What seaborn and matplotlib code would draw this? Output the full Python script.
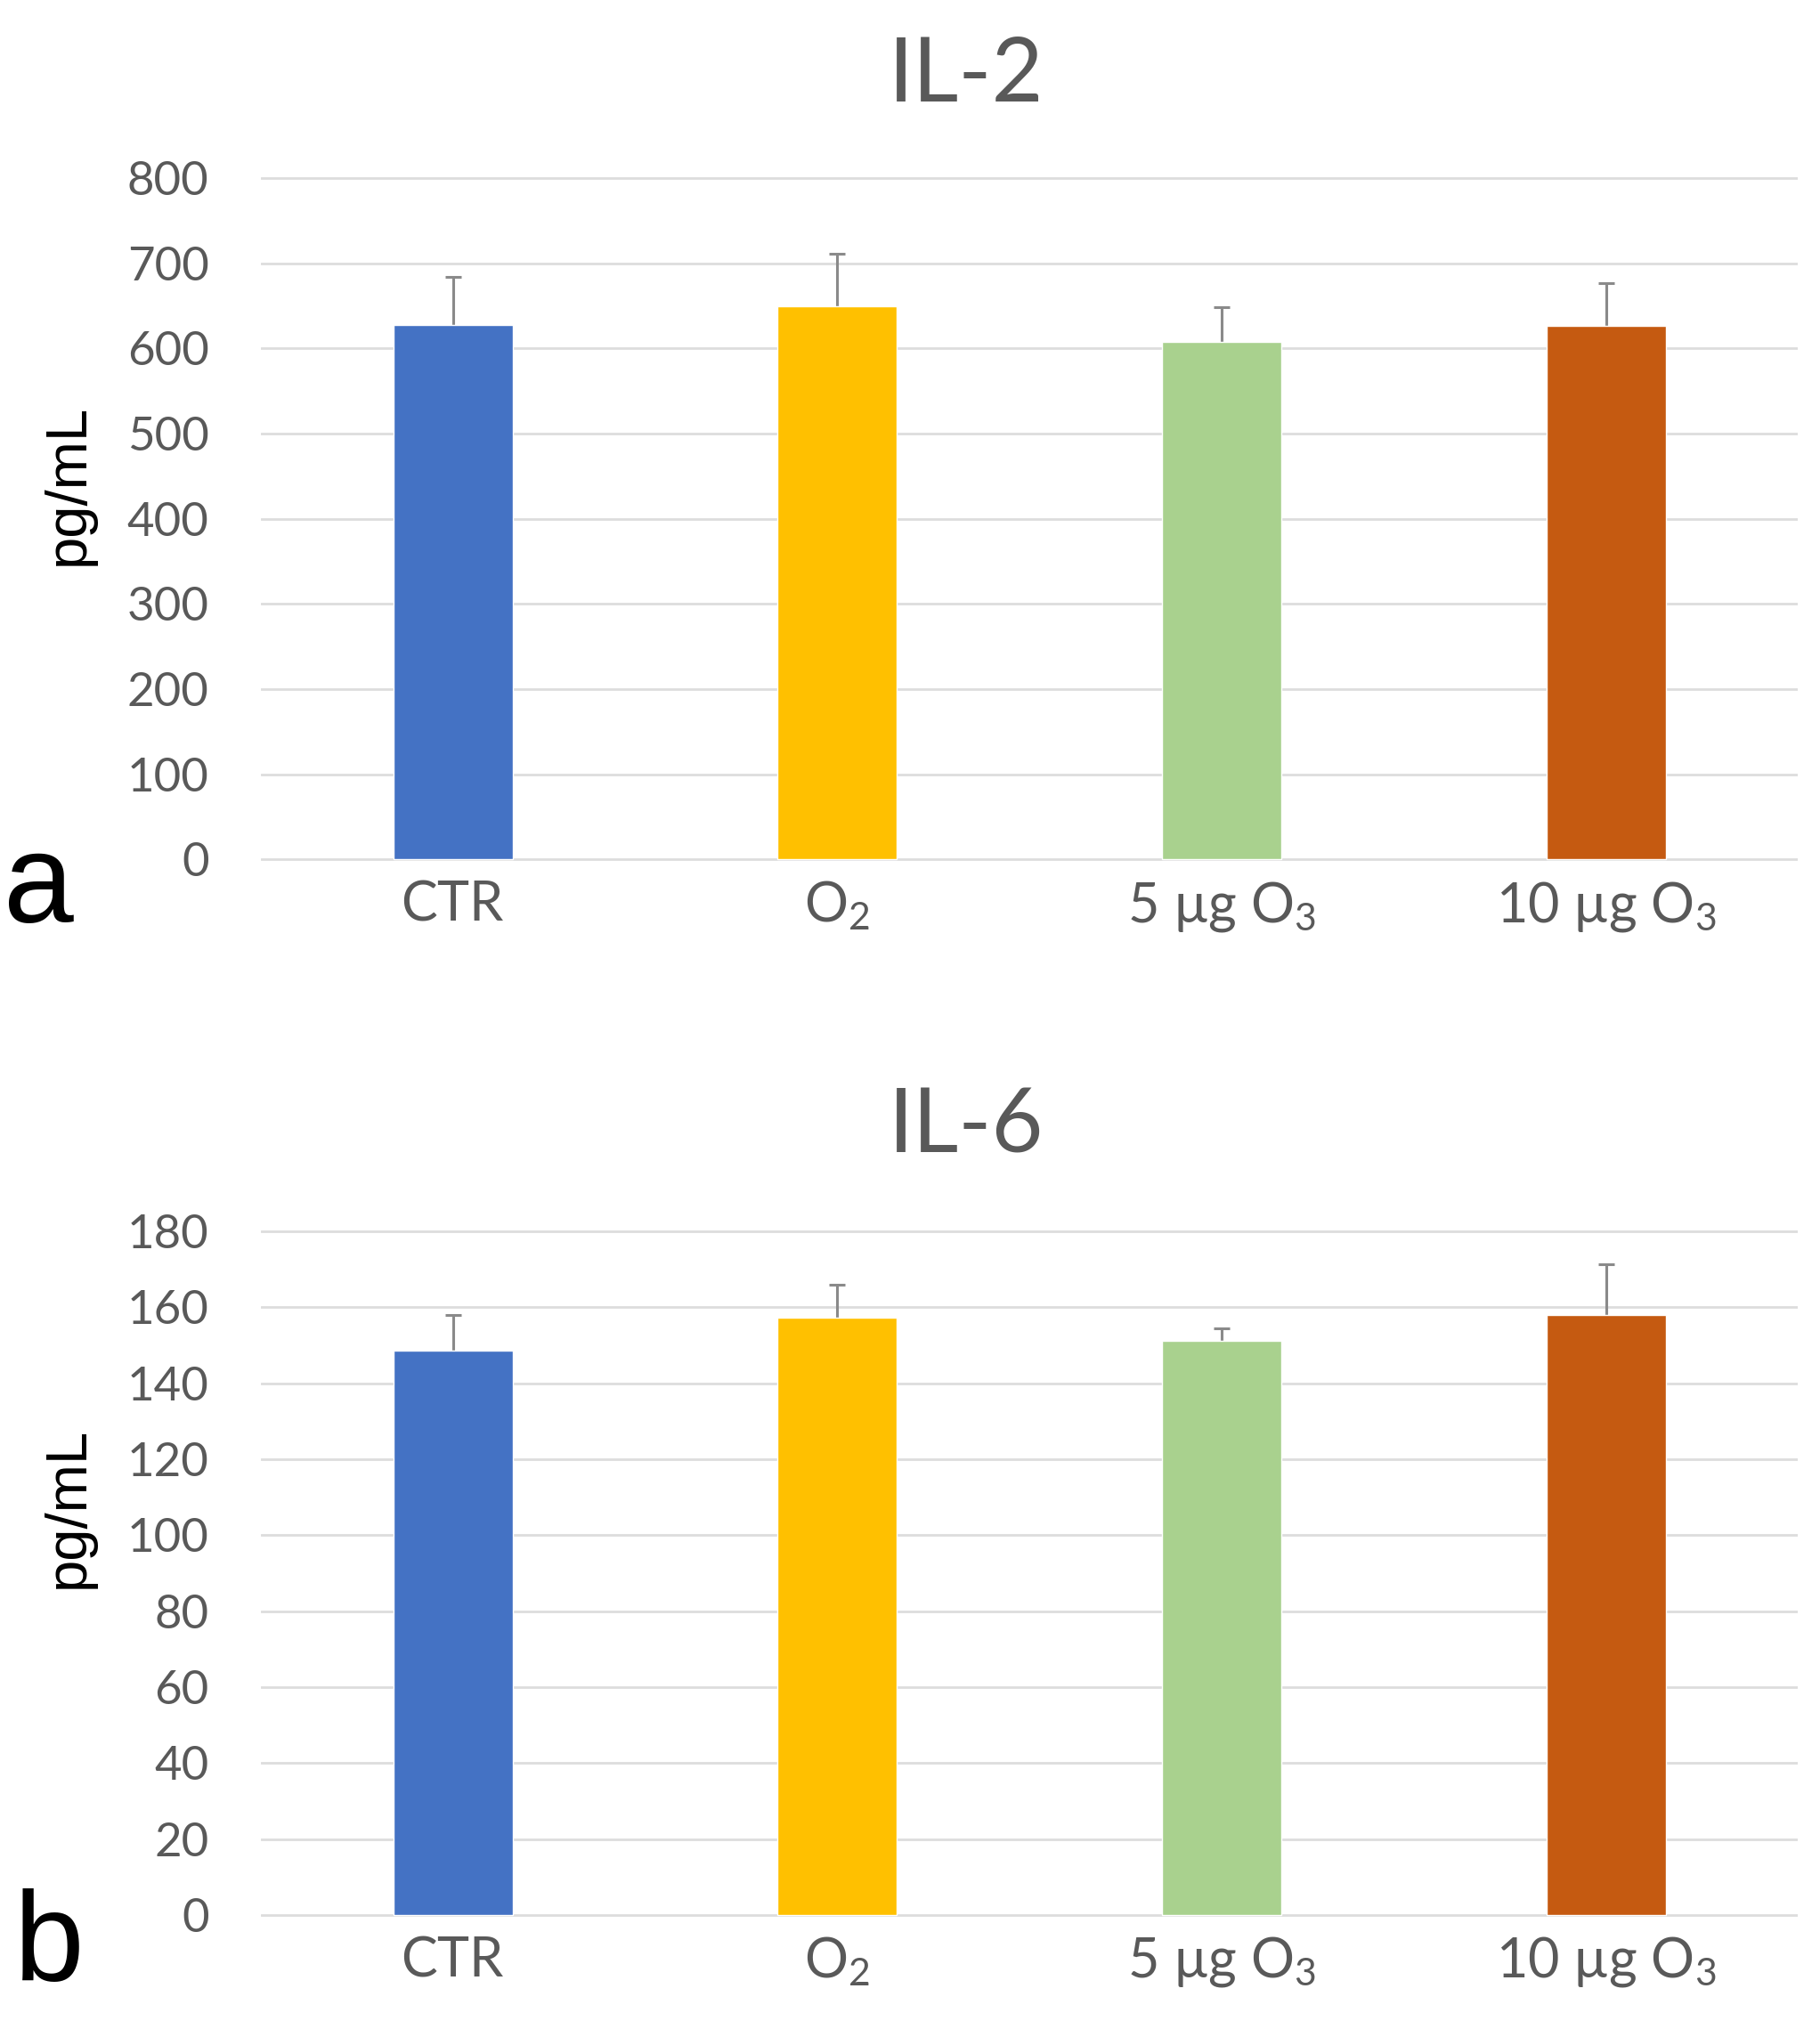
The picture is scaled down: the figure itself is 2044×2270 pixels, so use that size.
import matplotlib
matplotlib.use("Agg")
import matplotlib.pyplot as plt
import seaborn as sns
import numpy as np

# dados
grupos = ["$\\mathregular{CTR}$", "O$_2$", "5 µg O$_3$", "10 µg O$_3$"]
cores = ["#4472C4", "#FFC000", "#A9D18E", "#C55A11"]

il2_media = [628, 650, 608, 627]
il2_erro = [56, 61, 41, 50]
il2_ticks = [0, 100, 200, 300, 400, 500, 600, 700, 800]

il6_media = [148.7, 157.2, 151.2, 157.9]
il6_erro = [9.2, 8.7, 3.2, 13.4]
il6_ticks = [0, 20, 40, 60, 80, 100, 120, 140, 160, 180]

sns.set_style("white")
plt.rcParams['font.family'] = ['Lato', 'DejaVu Sans']
plt.rcParams['mathtext.fontset'] = 'custom'
plt.rcParams['mathtext.rm'] = 'Lato'
plt.rcParams['mathtext.it'] = 'Lato'
plt.rcParams['mathtext.default'] = 'regular'

cinza = "#595959"


def painel(ax, medias, erros, ticks, titulo, letra, y_titulo, y_letra, x_letra, y_rotulo):
    sns.barplot(x=grupos, y=medias, hue=grupos, palette=dict(zip(grupos, cores)),
                width=0.31, saturation=1, legend=False, ax=ax)
    for p in ax.patches:
        p.set_zorder(3)
    xs = np.arange(len(grupos))
    ax.errorbar(xs, medias, yerr=erros, fmt='none', ecolor="#8A8A8A",
                elinewidth=2.2, capsize=6.5, capthick=2.2, zorder=2)

    topo = ticks[-1]
    ax.set_ylim(-topo * 0.002, topo * 1.002)
    ax.set_xlim(-0.5, 3.5)
    ax.set_yticks(ticks)
    ax.yaxis.grid(True, color="#DDDDDD", linewidth=2.0)
    ax.set_axisbelow(True)
    for s in ax.spines.values():
        s.set_visible(False)
    ax.tick_params(axis='y', length=0, pad=42, labelsize=38, labelcolor=cinza)
    ax.tick_params(axis='x', length=0, pad=15, labelsize=44, labelcolor=cinza)

    ax.set_ylabel("pg/mL", fontsize=47, color="black",
                  family=['Liberation Sans', 'DejaVu Sans'])
    ax.yaxis.set_label_coords(-0.108, y_rotulo)

    fig.text(0.531, y_titulo, titulo, fontsize=72, color=cinza, ha='center', va='baseline')
    fig.text(x_letra, y_letra, letra, fontsize=102, color="black", ha='left', va='baseline',
             family=['Liberation Sans', 'DejaVu Sans'])


fig = plt.figure(figsize=(20.44, 22.70), dpi=100)
ax1 = fig.add_axes([0.1433, 0.5741, 0.8447, 0.3384])
ax2 = fig.add_axes([0.1433, 0.0517, 0.8447, 0.3397])

painel(ax1, il2_media, il2_erro, il2_ticks, "IL-2", "a", 0.950, 0.5434, 0.002, 0.55)
painel(ax2, il6_media, il6_erro, il6_ticks, "IL-6", "b", 0.4298, 0.0198, 0.008, 0.595)

plt.savefig("out.png", dpi=100)
